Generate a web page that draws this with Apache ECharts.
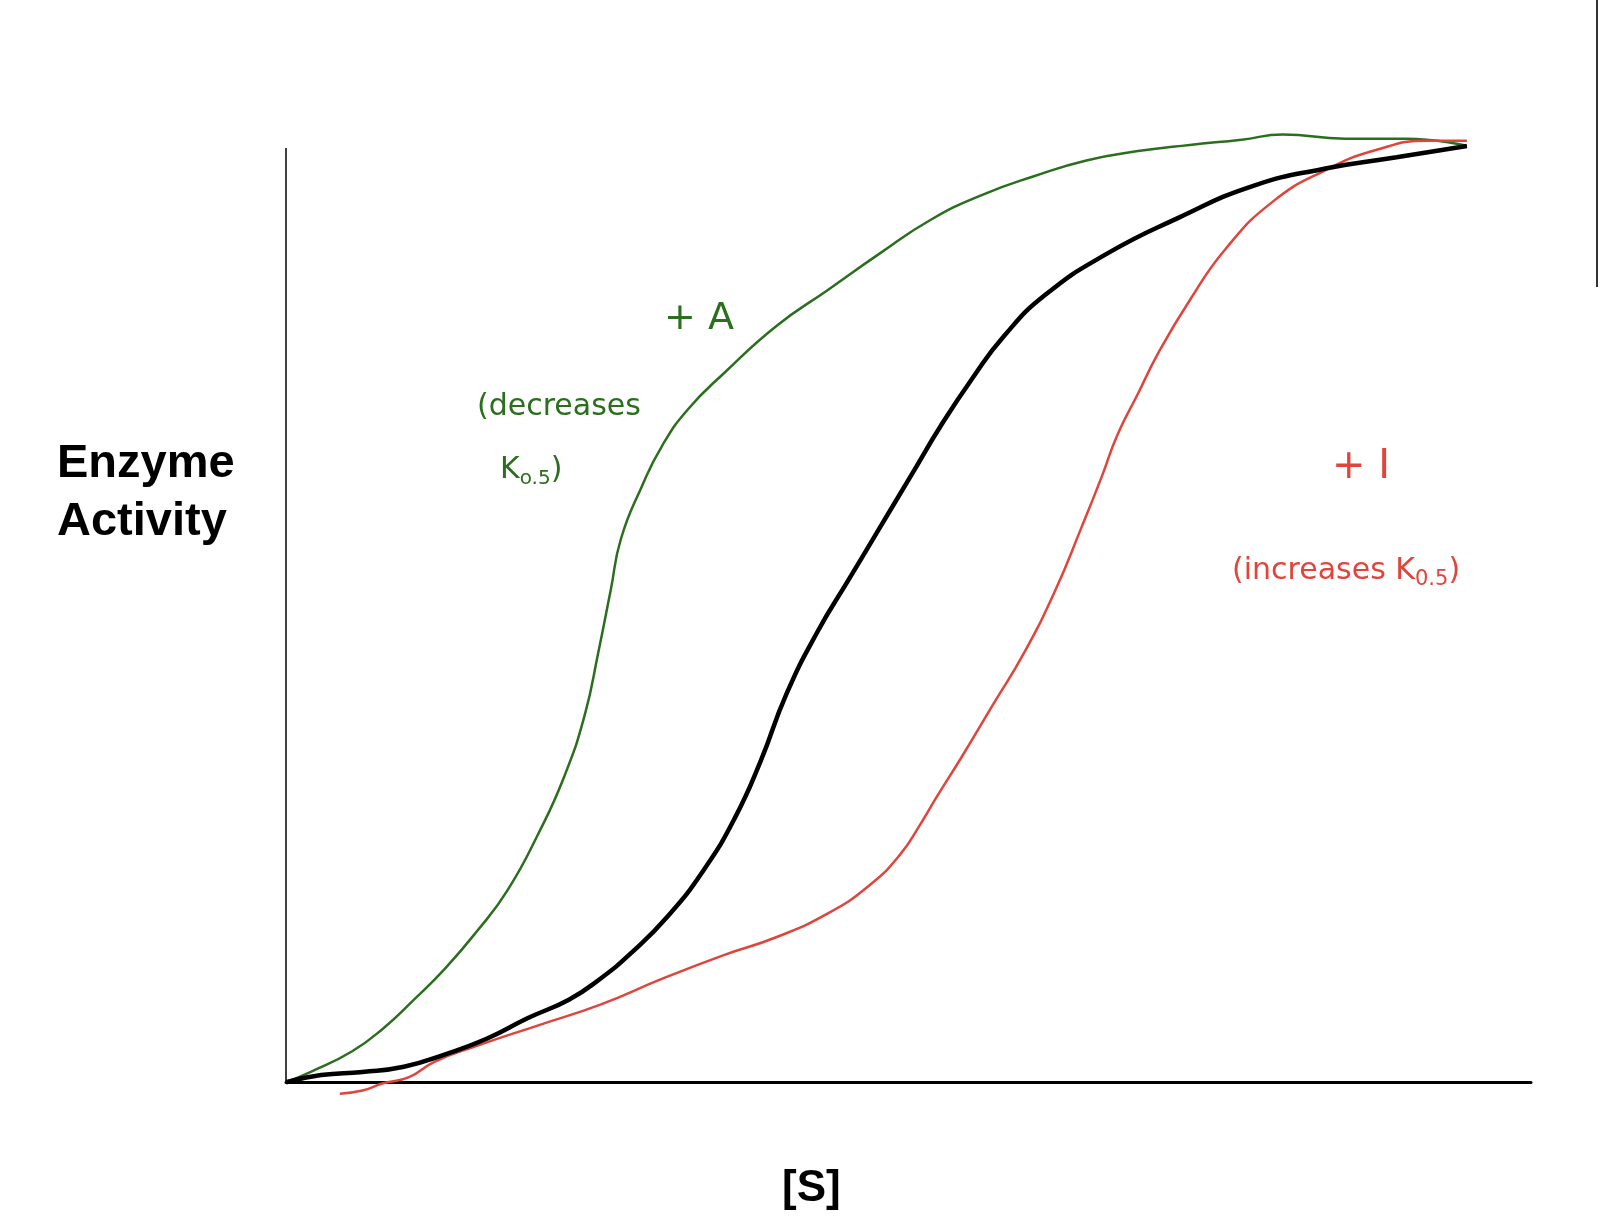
<!DOCTYPE html>
<html>
<head>
<meta charset="utf-8">
<script src="https://cdn.jsdelivr.net/npm/echarts@6/dist/echarts.min.js"></script>
<style>html,body{margin:0;padding:0;background:#fff}#main{width:1622px;height:1230px}</style>
</head>
<body>
<div id="main"></div>
<script>
// 曲线数据 [S], 活性 (按图上读取的坐标)
var greenA = [[0,0],[24,10],[64,30],[94,52],[124,80],[154,110],[184,145],[214,185],[244,240],[269,295],[289,355],[302,415],[314,475],[324,525],[344,575],[364,615],[389,650],[424,685],[474,730],[524,765],[574,800],[624,833],[674,857],[724,875],[774,890],[824,899],[874,905],[924,910],[964,915],[1024,911],[1084,911],[1142,904]];
var blackS = [[0,0],[34,7],[74,10],[114,15],[154,27],[194,42],[234,62],[274,80],[304,100],[334,125],[369,160],[404,205],[434,255],[459,310],[484,375],[514,435],[544,485],[574,535],[604,585],[634,635],[664,680],[694,720],[734,760],[794,800],[864,835],[934,865],[1004,882],[1074,893],[1142,904]];
var redI = [[52,-11],[74,-8],[94,-1],[119,5],[144,20],[184,35],[244,55],[304,75],[364,100],[424,123],[474,140],[524,163],[564,190],[594,220],[614,250],[629,275],[654,315],[684,365],[714,415],[744,475],[769,535],[789,585],[804,625],[824,665],[844,705],[874,755],[909,805],[954,850],[1004,880],[1054,900],[1104,909],[1142,909]];

var chart = echarts.init(document.getElementById('main'));
var hand = '"Comic Sans MS", "DejaVu Sans", sans-serif';

option = {
    animation: false,
    grid: {
        left: 286,
        right: 91,
        top: 119,
        bottom: 127
    },
    xAxis: {
        type: 'value',
        min: 0,
        max: 1204,
        axisLine: {
            onZero: true,
            lineStyle: { color: '#000', width: 3 }
        },
        axisTick: { show: false },
        axisLabel: { show: false },
        splitLine: { show: false }
    },
    yAxis: {
        type: 'value',
        min: -20,
        max: 930,
        axisLine: { show: false },
        axisTick: { show: false },
        axisLabel: { show: false },
        splitLine: { show: false }
    },
    series: [{
        type: 'line',
        data: greenA,
        smooth: true,
        symbol: 'none',
        lineStyle: { color: '#2a6e1e', width: 2.5 },
        markLine: {
            silent: true,
            symbol: 'none',
            label: { show: false },
            lineStyle: { color: '#000', width: 1.5, type: 'solid' },
            data: [[{ coord: [0, 0] }, { coord: [0, 902] }]]
        }
    },
        {
            type: 'line',
            data: redI,
            smooth: true,
            symbol: 'none',
            lineStyle: { color: '#e0453c', width: 2.5 }
        },
        {
            type: 'line',
            data: blackS,
            smooth: true,
            symbol: 'none',
            lineStyle: { color: '#000', width: 4.5 }
        }],
    graphic: [
        { type: 'text', left: 57, top: 435, style: { text: 'Enzyme\nActivity', font: 'bold 47px "Liberation Sans", Arial, sans-serif', lineHeight: 58, fill: '#000' } },
        { type: 'text', left: 782, top: 1167, style: { text: '[S]', font: 'bold 44px "Liberation Sans", Arial, sans-serif', fill: '#000' } },
        { type: 'text', left: 664, top: 300, style: { text: '+ A', font: '38px ' + hand, fill: '#2a6e1e' } },
        { type: 'text', left: 477, top: 392, style: { text: '(decreases', font: '30px ' + hand, fill: '#2a6e1e' } },
        { type: 'text', left: 500, top: 455, style: { rich: { a: { font: '30px ' + hand, fill: '#2a6e1e' }, s: { font: '20px ' + hand, fill: '#2a6e1e', padding: [18, 0, 0, 0] } }, text: '{a|K}{s|o.5}{a|)}' } },
        { type: 'text', left: 1332, top: 448, style: { text: '+ I', font: '40px ' + hand, fill: '#e0453c' } },
        { type: 'text', left: 1232, top: 556, style: { rich: { a: { font: '30px ' + hand, fill: '#e0453c' }, s: { font: '21px ' + hand, fill: '#e0453c', padding: [18, 0, 0, 0] } }, text: '{a|(increases K}{s|0.5}{a|)}' } },
        { type: 'line', shape: { x1: 1597, y1: 0, x2: 1597, y2: 287 }, style: { stroke: '#333', lineWidth: 2 } }
    ]
};

chart.setOption(option);
</script>
</body>
</html>
